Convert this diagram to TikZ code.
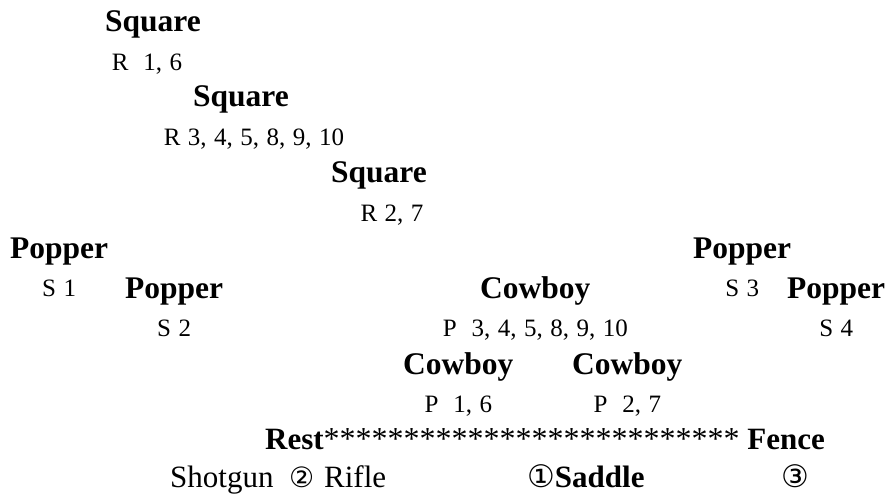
\documentclass[tikz,border=0pt]{standalone}
\usepackage{fontspec}
\setmainfont{Liberation Serif}
\newfontfamily\tagfont[WordSpace=1.2]{Liberation Serif}
\newfontfamily\circfont{DejaVu Sans}
\usetikzlibrary{positioning}
\tikzstyle{head} = [font=\bfseries\fontsize{31.5}{36}\selectfont, inner sep=0pt, anchor=base west]
\tikzstyle{tag} = [font=\tagfont\fontsize{25}{30}\selectfont, inner sep=0pt, anchor=base]
\tikzstyle{bigtext} = [font=\fontsize{31}{36}\selectfont, inner sep=0pt, anchor=base west]

\begin{document}
\begin{tikzpicture}[x=1pt, y=1pt, node distance=38.5pt]
\useasboundingbox (0,0) rectangle (885,496);
\node (sq1) [head] at (105,464) {Square};
\node (r16) [below=of sq1.base, tag, xshift=-6pt] {R~~1, 6};
\node (sq2) [head] at (193,389) {Square};
\node (r3) [below=of sq2.base, tag, xshift=13pt] {R 3, 4, 5, 8, 9, 10};
\node (sq3) [head] at (331,313) {Square};
\node (r27) [below=of sq3.base, tag, xshift=13pt] {R 2, 7};
\node (pop1) [head] at (10,238) {Popper};
\node (s1) [below=of pop1.base, tag] {S 1};
\node (pop3) [head] at (693,238) {Popper};
\node (s3) [below=of pop3.base, tag] {S 3};
\node (pop2) [head] at (125,198) {Popper};
\node (s2) [below=of pop2.base, tag] {S 2};
\node (cow1) [head] at (480,198) {Cowboy};
\node (p3) [below=of cow1.base, tag] {P~~3, 4, 5, 8, 9, 10};
\node (pop4) [head] at (787,198) {Popper};
\node (s4) [below=of pop4.base, tag] {S 4};
\node (cow2) [head] at (403,122) {Cowboy};
\node (p16) [below=of cow2.base, tag] {P~~1, 6};
\node (cow3) [head] at (572,122) {Cowboy};
\node (p27) [below=of cow3.base, tag] {P~~2, 7};
\node (fence) [bigtext] at (265,47) {{\bfseries Rest}{\fontsize{32}{36}\selectfont **************************}\ {\bfseries Fence}};
\node (guns) [bigtext] at (170,9) {Shotgun\ \ {\circfont\fontsize{28}{32}\selectfont ②}\hspace{10pt}Rifle};
\node (saddle) [bigtext] at (527,9) {{\circfont\fontsize{31}{36}\selectfont ①}{\bfseries Saddle}};
\node (three) [bigtext] at (781,9) {{\circfont\fontsize{31}{36}\selectfont ③}};
\end{tikzpicture}
\end{document}
